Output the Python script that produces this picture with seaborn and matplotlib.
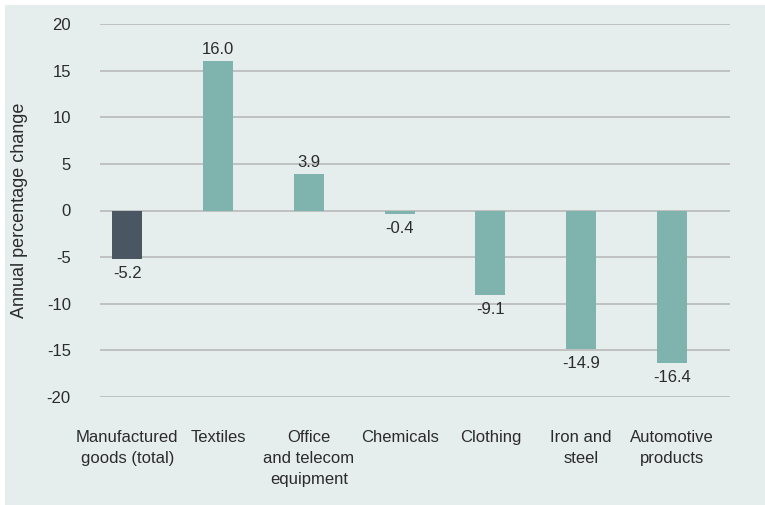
import matplotlib
matplotlib.use("Agg")
import matplotlib.pyplot as plt
import seaborn as sns
from matplotlib.patches import Rectangle

categories = ["Manufactured\ngoods (total)", "Textiles", "Office\nand telecom\nequipment",
              "Chemicals", "Clothing", "Iron and\nsteel", "Automotive\nproducts"]
values = [-5.2, 16.0, 3.9, -0.4, -9.1, -14.9, -16.4]
bar_colors = ["#4a5763"] + ["#7fb3ad"] * 6
y_ticks = [-20, -15, -10, -5, 0, 5, 10, 15, 20]

bg = "#e6eeed"
text_color = "#2b2b2b"

sns.set_style("white")
plt.rcParams["font.family"] = ["Liberation Sans", "DejaVu Sans"]
plt.rcParams["axes.unicode_minus"] = False

fig = plt.figure(figsize=(7.65, 5.05), dpi=100)
fig.patch.set_facecolor("white")
# light panel behind the chart, leaving a thin white margin top/left
fig.patches.append(Rectangle((5 / 765, 0), 1, 1 - 5 / 505, transform=fig.transFigure,
                             facecolor=bg, edgecolor="none", zorder=-10))

ax = fig.add_axes([100 / 765, 1 - 397 / 505, 630 / 765, 373 / 505])
ax.set_facecolor("none")

sns.barplot(x=categories, y=values, hue=categories, palette=bar_colors, legend=False,
            width=0.33, saturation=1, linewidth=0, edgecolor="none", ax=ax, zorder=3)

for cont in ax.containers:
    pad = 3 if cont.datavalues[0] > 0 else 5
    ax.bar_label(cont, fmt="%.1f", padding=pad, fontsize=12, color=text_color)

ax.set_ylim(-20, 20)
ax.set_xlim(-0.30, 6.64)
ax.set_yticks(y_ticks)
ax.yaxis.grid(True, color="#bdbdbd", linewidth=1.3, zorder=0)
ax.set_axisbelow(True)
for s in ax.spines.values():
    s.set_visible(False)

ax.tick_params(axis="y", length=0, pad=21, labelsize=12, labelcolor=text_color)
ax.tick_params(axis="x", length=0, pad=24, labelsize=12, labelcolor=text_color)
for lbl in ax.get_xticklabels():
    lbl.set_linespacing(1.5)
    lbl.set_va("top")

ax.set_xlabel("")
ax.set_ylabel("Annual percentage change", fontsize=13, color=text_color)
ax.yaxis.set_label_coords(-0.115, 0.5)

fig.savefig("out.png", dpi=100)
